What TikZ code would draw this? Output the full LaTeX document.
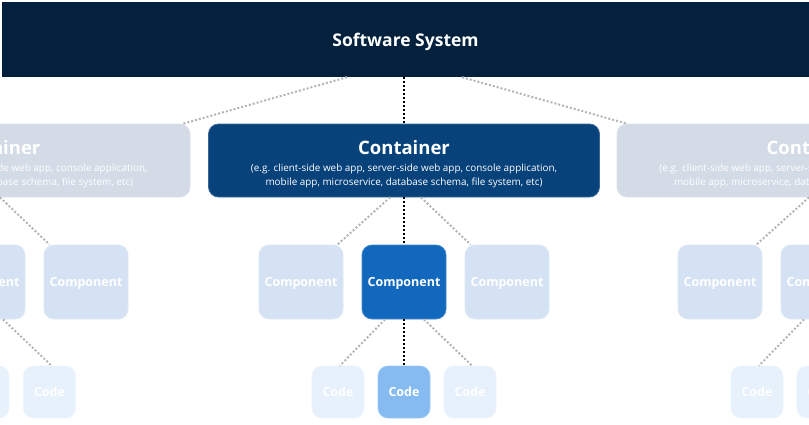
\documentclass[tikz,border=0pt]{standalone}
\usepackage{fontspec}
\setmainfont{Open Sans}
\definecolor{systemblue}{HTML}{03213D}
\definecolor{containerblue}{HTML}{08427B}
\definecolor{componentblue}{HTML}{1168BD}
\definecolor{codeblue}{HTML}{85BBF0}
\definecolor{fadedcontainer}{HTML}{D3DBE7}
\definecolor{fadedcomponent}{HTML}{D5E2F3}
\definecolor{fadedcode}{HTML}{E7F1FC}
\definecolor{linkgray}{HTML}{B4B4B4}
\newcommand{\containertext}{\rule{0pt}{21.5pt}{\fontsize{18.5}{22}\selectfont\bfseries Container}\\[3pt]
  (e.g. client-side web app, server-side web app, console application,\\
  mobile app, microservice, database schema, file system, etc)}
\tikzset{
  box/.style={rectangle, rounded corners=10pt, fill=#1, draw=#1!80!white,
    line width=0.8pt, text=white, align=center, inner sep=0pt},
  system/.style={rectangle, fill=systemblue, text=white, inner sep=0pt,
    minimum width=807pt, minimum height=75pt, text depth=0pt,
    font=\fontsize{17.5}{20}\selectfont\bfseries},
  container/.style={box=#1, minimum width=391pt, minimum height=73pt,
    font=\fontsize{9.9}{14}\selectfont},
  component/.style={box=#1, minimum width=84pt, minimum height=74pt,
    text depth=0pt, font=\fontsize{12.5}{15}\selectfont\bfseries},
  codebox/.style={box=#1, minimum width=52pt, minimum height=52pt,
    text depth=0pt, font=\fontsize{12.5}{15}\selectfont\bfseries},
  link/.style={line width=2pt, dash pattern=on 2pt off 2pt, draw=linkgray},
  focus/.style={line width=2pt, dash pattern=on 2pt off 2pt, draw=black},
}
\begin{document}
\begin{tikzpicture}[x=1pt,y=-1pt]
  \useasboundingbox (0,0) rectangle (809,424);
  \node[system] (sys) at (405.5,39.5) {Software System};
  % containers
  \node[container=fadedcontainer] (contL) at (-5.5,160.5) {\containertext};
  \node[container=containerblue] (contC) at (404,160.5) {\containertext};
  \node[container=fadedcontainer] (contR) at (812.5,160.5) {\containertext};
  % components
  \node[component=fadedcomponent] (compL1) at (-17,282) {Component};
  \node[component=fadedcomponent] (compL2) at (86,282) {Component};
  \node[component=fadedcomponent] (compCL) at (301,282) {Component};
  \node[component=componentblue] (compC) at (404,282) {Component};
  \node[component=fadedcomponent] (compCR) at (507,282) {Component};
  \node[component=fadedcomponent] (compR1) at (720,282) {Component};
  \node[component=fadedcomponent] (compR2) at (823,282) {Component};
  % code
  \node[codebox=fadedcode] (codeL1) at (-17,392) {Code};
  \node[codebox=fadedcode] (codeL2) at (49.5,392) {Code};
  \node[codebox=fadedcode] (codeCL) at (338,392) {Code};
  \node[codebox=codeblue] (codeC) at (404,392) {Code};
  \node[codebox=fadedcode] (codeCR) at (470,392) {Code};
  \node[codebox=fadedcode] (codeR1) at (757,392) {Code};
  \node[codebox=fadedcode] (codeR2) at (823,392) {Code};
  \begin{scope}[link]
    \draw ([xshift=-57pt]contC.north |- sys.south) to ([xshift=-7pt]contL.north east);
    \draw ([xshift=58pt]contC.north |- sys.south) to ([xshift=10pt]contR.north west);
    \draw ([xshift=5.5pt]contL.south) to ([xshift=6pt]compL2.north west);
    \draw ([xshift=-14pt]contC.south) to ([xshift=-6pt]compCL.north east);
    \draw ([xshift=17pt]contC.south) to ([xshift=6pt]compCR.north west);
    \draw ([xshift=-3.5pt]contR.south) to ([xshift=-6pt]compR1.north east);
    \draw ([xshift=20pt]compL1.south) to ([xshift=2pt]codeL2.north);
    \draw ([xshift=-19pt]compC.south) to ([xshift=2pt]codeCL.north);
    \draw ([xshift=20pt]compC.south) to ([xshift=2pt]codeCR.north);
    \draw ([xshift=-19pt]compR2.south) to ([xshift=2pt]codeR1.north);
  \end{scope}
  \begin{scope}[focus]
    \draw (contC.north |- sys.south) to (contC.north);
    \draw (contC.south) to (compC.north);
    \draw (compC.south) to (codeC.north);
  \end{scope}
\end{tikzpicture}
\end{document}
